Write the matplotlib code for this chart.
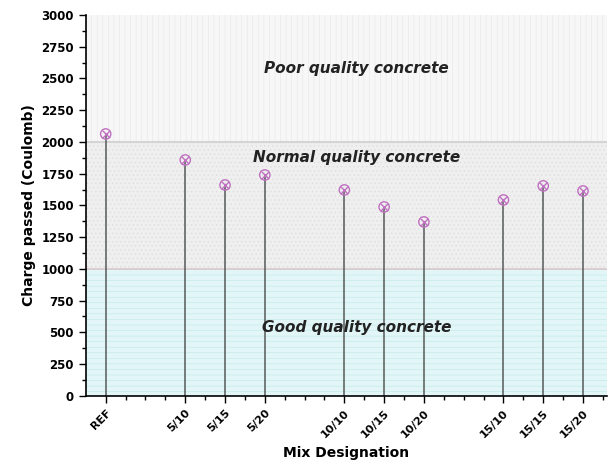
import matplotlib.pyplot as plt
import matplotlib as mpl
from matplotlib.ticker import MultipleLocator

mpl.rcParams['hatch.linewidth'] = 0.4

categories = ['REF', '5/10', '5/15', '5/20', '10/10', '10/15', '10/20', '15/10', '15/15', '15/20']
positions = [1, 3, 4, 5, 7, 8, 9, 11, 12, 13]
charge = [2063, 1858, 1661, 1740, 1622, 1488, 1370, 1543, 1654, 1614]

zones = [(0, 1000, '#e3f6f7', '#bfe6e8', '---', 'Good quality concrete', 535),
         (1000, 2000, '#efefef', '#dcdcdc', '....', 'Normal quality concrete', 1880),
         (2000, 3000, '#f7f7f7', '#e6e6e6', '|||', 'Poor quality concrete', 2580)]

fig = plt.figure(figsize=(6.13, 4.69), dpi=100)
ax = fig.add_axes([0.140, 0.156, 0.850, 0.812])

xmin, xmax = 0.5, 13.6
for lo, hi, fc, hc, hatch, label, ty in zones:
    ax.fill_between([xmin, xmax], lo, hi, facecolor=fc, edgecolor=hc, hatch=hatch, linewidth=0, zorder=0)
    ax.text(7.3, ty, label, ha='center', va='center', fontsize=11, fontweight='bold',
            fontstyle='italic', color='#222222', zorder=3)
ax.axhline(1000, color='#d8c8cc', lw=1.2, zorder=1)
ax.axhline(2000, color='#d4d4d4', lw=1.5, zorder=1)

ax.vlines(positions, 0, charge, color='#555a5a', lw=1.1, zorder=2)
ax.scatter(positions, charge, marker='o', s=55, facecolors='none', edgecolors='#c070c0', linewidths=1.0, zorder=4)
ax.scatter(positions, charge, marker='x', s=28, color='#c070c0', linewidths=1.0, zorder=4)

ax.set_xlim(xmin, xmax)
ax.set_ylim(0, 3000)
ax.yaxis.set_major_locator(MultipleLocator(250))
ax.yaxis.set_minor_locator(MultipleLocator(125))
ax.set_xticks(positions)
ax.set_xticklabels(categories, rotation=45, ha='right', rotation_mode='anchor', fontweight='bold', fontsize=8)
ax.set_xticks([1.5, 2, 2.5, 3.5, 4.5, 5.5, 6, 6.5, 7.5, 8.5, 9.5, 10, 10.5, 11.5, 12.5, 13.5], minor=True)
for lab in ax.get_yticklabels():
    lab.set_fontweight('bold')
ax.tick_params(axis='y', labelsize=8.5, width=1, length=5)
ax.tick_params(axis='y', which='minor', length=3, width=1)
ax.tick_params(axis='x', which='major', length=5, width=1)
ax.tick_params(axis='x', which='minor', length=3, width=1)
ax.spines['top'].set_visible(False)
ax.spines['right'].set_visible(False)
ax.spines['left'].set_linewidth(1.2)
ax.spines['bottom'].set_linewidth(1.2)

ax.set_ylabel('Charge passed (Coulomb)', fontsize=10, fontweight='bold')
ax.set_xlabel('Mix Designation', fontsize=10, fontweight='bold', labelpad=5)

fig.savefig('out.png', dpi=100)
